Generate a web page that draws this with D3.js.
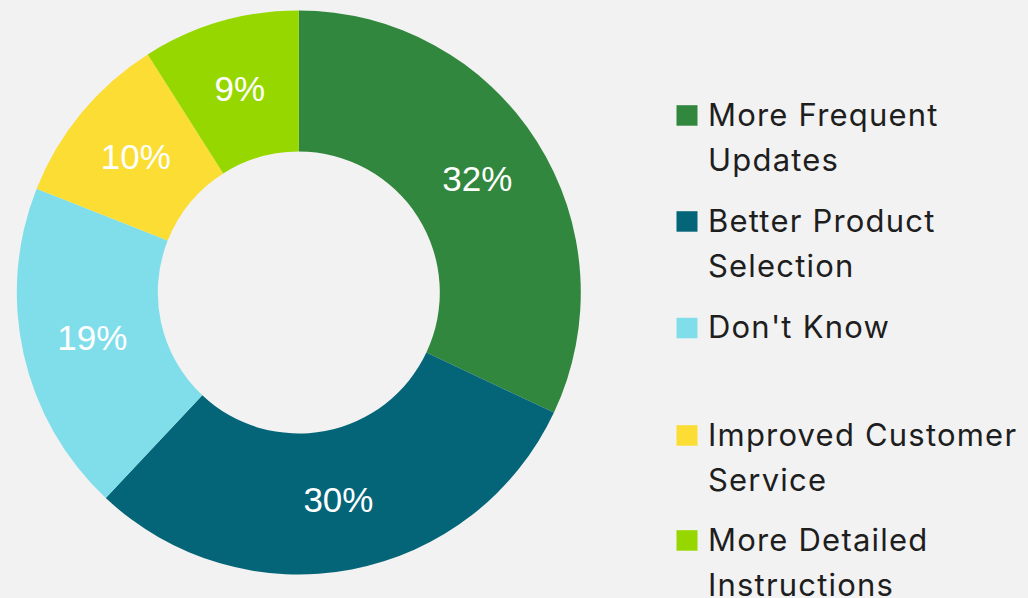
<!DOCTYPE html>
<html>
<head>
<meta charset="utf-8">
<script src="https://cdn.jsdelivr.net/npm/d3@7"></script>
<style>
  html, body { margin: 0; padding: 0; background: #f2f2f2; }
  svg { display: block; }
</style>
</head>
<body>
<svg id="chart" width="1028" height="598"></svg>
<script>
// Survey responses: share of answers per suggestion (percent)
const categories = [
  "More Frequent Updates",
  "Better Product Selection",
  "Don't Know",
  "Improved Customer Service",
  "More Detailed Instructions"
];
const values = [32, 30, 19, 10, 9];
const legendLines = [
  ["More Frequent", "Updates"],
  ["Better Product", "Selection"],
  ["Don't Know"],
  ["Improved Customer", "Service"],
  ["More Detailed", "Instructions"]
];
const colors = ["#31873d", "#056578", "#80deea", "#fbdd33", "#97d700"];

const svg = d3.select("#chart");
svg.append("rect").attr("width", 1028).attr("height", 598).attr("fill", "#f2f2f2");

const cx = 298.8, cy = 292.5, outerR = 282, innerR = 141;

const data = categories.map((c, i) => ({ name: c, value: values[i], color: colors[i] }));

const pie = d3.pie().value(d => d.value).sort(null);
const arc = d3.arc().innerRadius(innerR).outerRadius(outerR);
const labelArc = d3.arc().innerRadius((innerR + outerR) / 2).outerRadius((innerR + outerR) / 2);

const g = svg.append("g").attr("transform", `translate(${cx},${cy})`);
const arcs = pie(data);

g.selectAll("path.slice")
  .data(arcs)
  .join("path")
  .attr("class", "slice")
  .attr("d", arc)
  .attr("fill", d => d.data.color);

g.selectAll("text.pct")
  .data(arcs)
  .join("text")
  .attr("class", "pct")
  .attr("transform", d => `translate(${labelArc.centroid(d)})`)
  .attr("text-anchor", "middle")
  .attr("dy", "0.33em")
  .attr("fill", "#ffffff")
  .style("font-family", "'Liberation Sans', Arial, sans-serif")
  .style("font-size", "35px")
  .text(d => d.data.value + "%");

// Legend
const legendX = 676.5, textX = 708;
const firstBaselines = [125.7, 231.7, 338.3, 445.7, 550.7];
const lineGap = 45.5;
const legend = svg.append("g");

data.forEach((d, i) => {
  const item = legend.append("g");
  item.append("rect")
    .attr("x", legendX)
    .attr("y", firstBaselines[i] - 20.5)
    .attr("width", 21)
    .attr("height", 20.5)
    .attr("fill", d.color);
  const t = item.append("text")
    .attr("x", textX)
    .attr("y", firstBaselines[i])
    .attr("fill", "#1e1e1e")
    .style("font-family", "Inter, 'Open Sans', sans-serif")
    .style("font-size", "31px")
    .style("letter-spacing", "1.2px");
  legendLines[i].forEach((line, j) => {
    t.append("tspan").attr("x", textX).attr("y", firstBaselines[i] + j * lineGap).text(line);
  });
});
</script>
</body>
</html>
